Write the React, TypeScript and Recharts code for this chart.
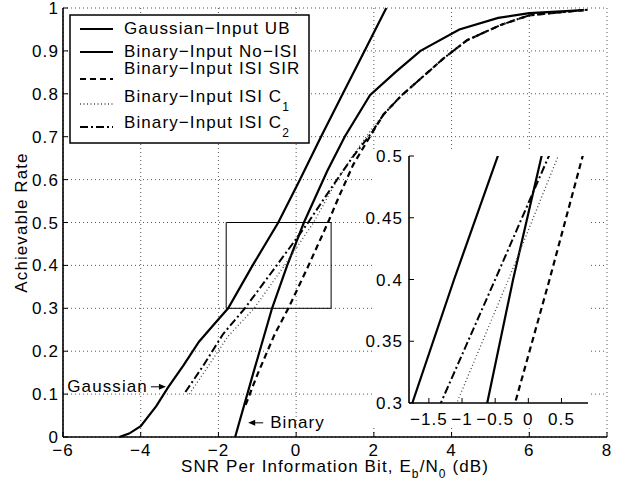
import React from 'react'
import { LineChart, Line, XAxis, YAxis, CartesianGrid, ReferenceArea, ReferenceDot } from 'recharts'

const FONT = '"Liberation Sans", Arial, Helvetica, sans-serif'
const LS = 1.1

// Eb/N0 (dB) on x, achievable rate on y
const gaussX = [-4.55, -4.3, -4.0, -3.6, -3.3, -2.9, -2.5, -2.1, -1.75, -1.12, -0.46, 0.1, 0.64, 1.2, 1.76, 2.32]
const gaussY = [0, 0.008, 0.025, 0.072, 0.115, 0.167, 0.222, 0.264, 0.3, 0.4, 0.5, 0.6, 0.7, 0.8, 0.9, 1.0]

const noIsiX = [-1.57, -1.1, -0.62, -0.23, 0.2, 0.8, 1.25, 1.9, 2.55, 3.2, 4.2, 5.2, 6.0, 7.4]
const noIsiY = [0, 0.15, 0.3, 0.4, 0.5, 0.62, 0.7, 0.797, 0.85, 0.9, 0.95, 0.977, 0.988, 0.995]

const sirX = [-1.3, -1.0, -0.55, -0.2, 0.32, 0.82, 1.1, 1.47, 1.95, 2.25]
const sirY = [0.075, 0.145, 0.24, 0.3, 0.4, 0.5, 0.56, 0.635, 0.708, 0.752]

const c1X = [-2.75, -2.3, -1.75, -1.08, -0.3, 0.45, 1.0, 1.45, 1.9, 2.25]
const c1Y = [0.1, 0.16, 0.235, 0.3, 0.4, 0.5, 0.59, 0.655, 0.712, 0.752]

const c2X = [-2.85, -2.4, -1.88, -1.32, -0.5, 0.31, 0.9, 1.45, 1.95, 2.25]
const c2Y = [0.105, 0.165, 0.24, 0.3, 0.4, 0.5, 0.58, 0.652, 0.71, 0.752]

// the three ISI curves merge at high SNR
const tailX = [2.7, 3.2, 3.8, 4.4, 5.25, 6.0, 7.5]
const tailY = [0.795, 0.835, 0.883, 0.925, 0.96, 0.983, 0.996]

const xTicks = [-6, -4, -2, 0, 2, 4, 6, 8]
const yTicks = [0, 0.1, 0.2, 0.3, 0.4, 0.5, 0.6, 0.7, 0.8, 0.9, 1]
const insetX = [-1.8, 0.9]
const insetY = [0.3, 0.5]
const insetXTicks = [-1.5, -1, -0.5, 0, 0.5]
const insetYTicks = [0.3, 0.35, 0.4, 0.45, 0.5]

const zip = (xs: number[], ys: number[]) => xs.map((x, i) => ({ x, y: ys[i] }))

const series = [
  { name: 'Gaussian−Input UB', data: zip(gaussX, gaussY), dash: undefined, width: 2.2, color: '#000' },
  { name: 'Binary−Input No−ISI', data: zip(noIsiX, noIsiY), dash: undefined, width: 2.2, color: '#000' },
  { name: 'Binary−Input ISI SIR', data: zip([...sirX, ...tailX], [...sirY, ...tailY]), dash: '6 4', width: 2.2, color: '#000' },
  { name: 'Binary−Input ISI C', sub: '1', data: zip([...c1X, ...tailX], [...c1Y, ...tailY]), dash: '1 2.5', width: 1.3, color: '#444' },
  { name: 'Binary−Input ISI C', sub: '2', data: zip([...c2X, ...tailX], [...c2Y, ...tailY]), dash: '8 3 2 3', width: 2, color: '#000' },
]

const fmt = (v: number) => {
  const s = String(+v.toFixed(2))
  return s.replace('-', '−')
}

const tickStyle = { fill: '#000', fontSize: 17, fontFamily: FONT, letterSpacing: LS }
const axisLine = { stroke: '#000', strokeWidth: 1.6 }

const XLabel = ({ viewBox }: any) => {
  const vb = viewBox || { x: 63, y: 437, width: 544, height: 43 }
  const cx = vb.x + vb.width / 2
  const y = vb.y + 35
  return (
    <text x={cx} y={y} textAnchor="middle" fontSize={17} fontFamily={FONT} letterSpacing={LS} fill="#000">
      SNR Per Information Bit, E<tspan dy={6} fontSize={12}>b</tspan>
      <tspan dy={-6}>/N</tspan>
      <tspan dy={6} fontSize={12}>0</tspan>
      <tspan dy={-6}> (dB)</tspan>
    </text>
  )
}

const YLabel = ({ viewBox }: any) => {
  const vb = viewBox || { x: 0, y: 8, width: 63, height: 429 }
  const cx = vb.x + 21
  const cy = vb.y + vb.height / 2
  return (
    <text x={cx} y={cy} transform={`rotate(-90 ${cx} ${cy})`} textAnchor="middle" dominantBaseline="central"
      fontSize={17} fontFamily={FONT} letterSpacing={LS} fill="#000">
      Achievable Rate
    </text>
  )
}

const Arrow = ({ x1, x2, y }: { x1: number; x2: number; y: number }) => {
  const dir = x2 > x1 ? 1 : -1
  return (
    <g>
      <line x1={x1} y1={y} x2={x2 - dir * 5} y2={y} stroke="#000" strokeWidth={1} />
      <polygon points={`${x2},${y} ${x2 - dir * 7},${y - 3} ${x2 - dir * 7},${y + 3}`} fill="#000" />
    </g>
  )
}

const GaussNote = (p: any) => (
  <g>
    <text x={p.cx - 20} y={p.cy} dominantBaseline="central" textAnchor="end" fontSize={17} fontFamily={FONT} letterSpacing={LS} fill="#000">Gaussian</text>
    <Arrow x1={p.cx - 17} x2={p.cx - 2} y={p.cy} />
  </g>
)

const BinaryNote = (p: any) => (
  <g>
    <Arrow x1={p.cx + 16} x2={p.cx + 1} y={p.cy} />
    <text x={p.cx + 23} y={p.cy} dominantBaseline="central" fontSize={17} fontFamily={FONT} letterSpacing={LS} fill="#000">Binary</text>
  </g>
)

function LegendBox() {
  const rows = [
    { line: 29, text: 34 },
    { line: 52, text: 57 },
    { line: 79, text: 74 },
    { line: 104, text: 102 },
    { line: 127, text: 128 },
  ]
  return (
    <svg width={623} height={480} style={{ position: 'absolute', left: 0, top: 0, pointerEvents: 'none' }}>
      <rect x={70} y={15} width={239} height={128} fill="#fff" stroke="#000" strokeWidth={1.5} />
      {series.map((s, i) => (
        <g key={i}>
          <line x1={80} x2={113} y1={rows[i].line} y2={rows[i].line} stroke={s.color} strokeWidth={s.width} strokeDasharray={s.dash} />
          <text x={124} y={rows[i].text} fontSize={17} fontFamily={FONT} letterSpacing={LS} fill="#000">
            {s.name}
            {s.sub && <tspan dy={9} fontSize={12}>{s.sub}</tspan>}
          </text>
        </g>
      ))}
    </svg>
  )
}

function Inset() {
  return (
    <div style={{ position: 'absolute', left: 358, top: 140, width: 232, height: 294 }}>
      <div style={{ position: 'absolute', left: 15, top: 10, width: 217, height: 277, background: '#fff' }} />
      <LineChart width={232} height={294} margin={{ top: 16, right: 2, bottom: 0, left: 0 }}>
        <XAxis dataKey="x" type="number" domain={insetX} ticks={insetXTicks} allowDataOverflow height={31}
          tickSize={-5} tickMargin={15} tickFormatter={fmt} interval={0} axisLine={axisLine} tickLine={{ stroke: '#000' }} tick={tickStyle} />
        <XAxis xAxisId="top" orientation="top" type="number" domain={insetX} ticks={insetXTicks} allowDataOverflow height={0}
          tickSize={-5} tick={false} axisLine={axisLine} tickLine={{ stroke: '#000' }} />
        <YAxis type="number" domain={insetY} ticks={insetYTicks} allowDataOverflow width={51}
          tickSize={-5} tickMargin={11} tickFormatter={fmt} interval={0} axisLine={axisLine} tickLine={{ stroke: '#000' }} tick={tickStyle} />
        <YAxis yAxisId="right" orientation="right" type="number" domain={insetY} ticks={insetYTicks} allowDataOverflow width={0}
          tickSize={-5} tick={false} axisLine={axisLine} tickLine={{ stroke: '#000' }} />
        {series.map((s, i) => (
          <Line key={i} data={s.data} dataKey="y" type="linear" stroke={s.color} strokeWidth={s.width}
            strokeDasharray={s.dash} dot={false} activeDot={false} isAnimationActive={false} />
        ))}
      </LineChart>
    </div>
  )
}

export default function App() {
  return (
    <div style={{ position: 'absolute', left: 0, top: 0, width: 623, height: 480, background: '#fff' }}>
      <LineChart width={623} height={480} margin={{ top: 8, right: 16, bottom: 0, left: 0 }}>
        <CartesianGrid stroke="#555" strokeDasharray="1 3" />
        <XAxis dataKey="x" type="number" domain={[-6, 8]} ticks={xTicks} height={43} interval={0}
          tickSize={-5} tickMargin={12} tickFormatter={fmt} axisLine={axisLine} tickLine={{ stroke: '#000' }}
          tick={tickStyle} label={<XLabel />} />
        <XAxis xAxisId="top" orientation="top" type="number" domain={[-6, 8]} ticks={xTicks} height={0}
          tickSize={-5} tick={false} axisLine={axisLine} tickLine={{ stroke: '#000' }} />
        <YAxis type="number" domain={[0, 1]} ticks={yTicks} width={63} interval={0}
          tickSize={-5} tickMargin={9} tickFormatter={fmt} axisLine={axisLine} tickLine={{ stroke: '#000' }}
          tick={tickStyle} label={<YLabel />} />
        <YAxis yAxisId="right" orientation="right" type="number" domain={[0, 1]} ticks={yTicks} width={0}
          tickSize={-5} tick={false} axisLine={axisLine} tickLine={{ stroke: '#000' }} />
        {series.map((s, i) => (
          <Line key={i} data={s.data} dataKey="y" type="linear" stroke={s.color} strokeWidth={s.width}
            strokeDasharray={s.dash} dot={false} activeDot={false} isAnimationActive={false} />
        ))}
        <ReferenceArea x1={insetX[0]} x2={insetX[1]} y1={insetY[0]} y2={insetY[1]} fill="none" fillOpacity={0}
          stroke="#000" strokeWidth={1} />
        <ReferenceDot x={-3.3} y={0.117} r={0} shape={(p: any) => <GaussNote {...p} />} />
        <ReferenceDot x={-1.26} y={0.033} r={0} shape={(p: any) => <BinaryNote {...p} />} />
      </LineChart>
      <Inset />
      <LegendBox />
    </div>
  )
}
